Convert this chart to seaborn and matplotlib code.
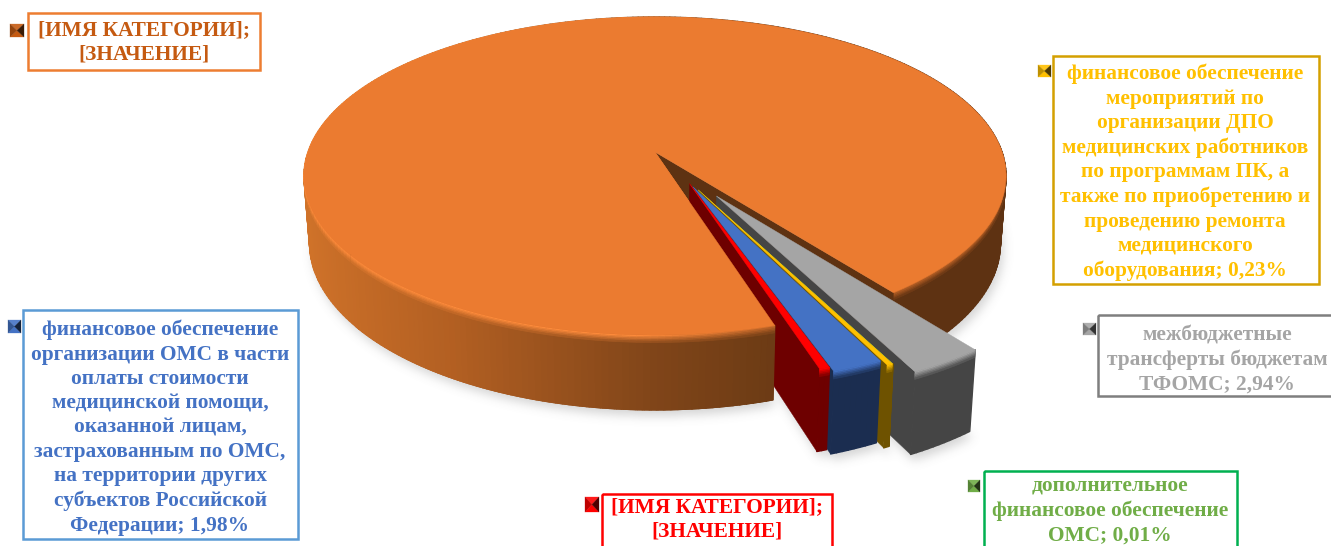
import numpy as np
import pandas as pd
import matplotlib
matplotlib.use("Agg")
import matplotlib.pyplot as plt
from matplotlib.collections import PolyCollection
from matplotlib.colors import to_rgb
from matplotlib.patches import Rectangle
from matplotlib.path import Path
import seaborn as sns

# Budget shares, in the order the slices follow round the pie
categories = ["прочее", "красный", "синий", "жёлтый", "зелёный", "серый"]
shares = [94.44, 0.40, 1.98, 0.23, 0.01, 2.94]
top_colors = ["#EB7B30", "#FF0000", "#4472C4", "#FFC000", "#70AD47", "#A5A5A5"]
wall_colors = ["#5E3212", "#6E0000", "#1B2D50", "#6E5200", "#6E5200", "#454545"]

# Pull-out of each slice: distance and direction in degrees
explode_dist = [0.0, 0.22, 0.24, 0.264, 0.264, 0.32]
explode_dir = [0.0, 26.0, 26.0, 27.0, 27.0, 32.0]

label_texts = [
    "[ИМЯ КАТЕГОРИИ];\n[ЗНАЧЕНИЕ]",
    "[ИМЯ КАТЕГОРИИ];\n[ЗНАЧЕНИЕ]",
    "финансовое обеспечение\nорганизации ОМС в части\nоплаты стоимости\nмедицинской помощи,\n"
    "оказанной лицам,\nзастрахованным по ОМС,\nна территории других\nсубъектов Российской\nФедерации; 1,98%",
    "финансовое обеспечение\nмероприятий по\nорганизации ДПО\nмедицинских работников\nпо программам ПК, а\n"
    "также по приобретению и\nпроведению ремонта\nмедицинского\nоборудования; 0,23%",
    "дополнительное\nфинансовое обеспечение\nОМС; 0,01%",
    "межбюджетные\nтрансферты бюджетам\nТФОМС; 2,94%",
]
text_colors = ["#C55A11", "#FF0000", "#4472C4", "#FFC000", "#70AD47", "#A5A5A5"]
box_edges = ["#ED7D31", "#FF0000", "#5B9BD5", "#D4A000", "#00B050", "#7F7F7F"]
# Label frame: left, top, right, bottom in pixels
boxes = [(28, 13, 260, 70), (602, 494, 832, 560), (23, 310, 298, 539),
         (1053, 56, 1319, 284), (984, 471, 1237, 560), (1098, 315, 1345, 396)]
key_boxes = [(10, 24, 24, 37), (585, 497, 599, 512), (8, 320, 21, 333),
             (1038, 65, 1051, 77), (968, 480, 980, 492), (1083, 323, 1096, 335)]
# Label text anchor: centre x and top y in pixels
text_anchor = [(144, 20), (717, 497), (160, 320), (1185, 64), (1110, 476), (1217, 325)]

W, H = 1331, 546
CX, CY = 655.0, 152.0   # projected centre of the pie
RX, RY = 347.0, 155.4   # plan scale
K = 0.151               # perspective strength
DEPTH = 66.0            # wall height
SLICE_DEPTH = 1.08      # pulled-out slices sit nearer and look a little taller
SHRINK = 0.016          # base of the wall is slightly narrower
START = 37.2            # first slice edge, degrees from the front

df = pd.DataFrame({"name": categories, "share": shares, "top": top_colors, "wall": wall_colors,
                   "dist": explode_dist, "dir": explode_dir})
df["span"] = df["share"] / df["share"].sum() * 360.0
df["start"] = START + df["span"].cumsum().shift(fill_value=0.0)
df["end"] = df["start"] + df["span"]

sns.set_theme(style="white")
plt.rcParams["font.family"] = ["Liberation Serif", "DejaVu Serif"]


def project(x, y, z=0.0):
    x, y, z = np.asarray(x, float), np.asarray(y, float), np.asarray(z, float)
    w = 1.0 - K * y
    s = 1.0 - SHRINK * z
    return np.column_stack(np.broadcast_arrays(CX + RX * x * s / w, CY + RY * y * s / w + DEPTH * z / w))


def rim(theta, ox=0.0, oy=0.0):
    t = np.radians(theta)
    return ox + np.sin(t), oy + np.cos(t)


def offset(row):
    t = np.radians(row["dir"])
    return row["dist"] * np.sin(t), row["dist"] * np.cos(t)


def sector_outline(row, z=0.0):
    ox, oy = offset(row)
    th = np.linspace(row["start"], row["end"], max(3, int(row["span"]) * 2 + 3))
    x, y = rim(th, ox, oy)
    return project(np.r_[ox, x], np.r_[oy, y], z)


def mix(a, b, t):
    a, b = np.asarray(a), np.asarray(b)
    return a + (b - a) * t


ORANGE_STOPS = np.array([to_rgb(c) for c in ["#D2742A", "#B25F22", "#804519", "#6A3A14", "#5E3212", "#5E3212"]])
STOP_X = np.array([-1.0, -0.5, 0.0, 0.33, 0.45, 1.0])


def orange_wall_color(theta):
    x = np.sin(np.radians(theta))
    return np.array([np.interp(x, STOP_X, ORANGE_STOPS[:, i]) for i in range(3)])


def draw_wall(ax, row, th0, th1, color_fn, bevel_fn, zorder, depth=1.0):
    ox, oy = offset(row)
    th = np.linspace(th0, th1, max(2, int(th1 - th0) + 2))
    levels = np.linspace(0, 0.10, 6)
    # Body of the wall, with wide strokes so the narrow columns leave no seams
    body, body_cols = [], []
    bevel, bevel_cols = [], []
    for i in range(len(th) - 1):
        mid = 0.5 * (th[i] + th[i + 1])
        x, y = rim(np.array([th[i], th[i + 1]]), ox, oy)
        a = project(x, y, 0.0)
        b = project(x, y, depth)
        body.append(np.vstack([a, b[::-1]]))
        body_cols.append(color_fn(mid))
        for j in range(len(levels) - 1):
            a = project(x, y, levels[j])
            b = project(x, y, levels[j + 1])
            bevel.append(np.vstack([a, b[::-1]]))
            bevel_cols.append(mix(bevel_fn(mid), color_fn(mid), j / (len(levels) - 1)))
    ax.add_collection(PolyCollection(body, facecolors=body_cols, edgecolors=body_cols,
                                     linewidths=1.0, zorder=zorder))
    ax.add_collection(PolyCollection(bevel, facecolors=bevel_cols, edgecolors=bevel_cols,
                                     linewidths=0.5, zorder=zorder + 0.01))


def draw_top(ax, row, zorder, th0=None, th1=None):
    sub = row.copy()
    if th0 is not None:
        sub["start"], sub["end"], sub["span"] = th0, th1, th1 - th0
    pts = sector_outline(sub)
    ax.fill(pts[:, 0], pts[:, 1], color=row["top"], lw=0.3, zorder=zorder)


def straight_face(ax, row, theta, color, zorder, depth=1.0):
    ox, oy = offset(row)
    x, y = rim(theta, ox, oy)
    a = project([ox, x], [oy, y], 0.0)
    b = project([ox, x], [oy, y], depth)
    pts = np.vstack([a, b[::-1]])
    ax.fill(pts[:, 0], pts[:, 1], color=color, lw=0.3, zorder=zorder)


def orange_bevel(theta):
    x = np.sin(np.radians(theta))
    warm = np.array(to_rgb("#FF8C3C"))
    dark = mix(to_rgb("#EB7B30"), to_rgb("#5E3212"), 0.35)
    return mix(warm, dark, np.clip((x + 0.05) / 0.4, 0.0, 1.0))


fig = plt.figure(figsize=(W / 100, H / 100), dpi=100)
ax = fig.add_axes([0, 0, 1, 1])

# Soft shadow under the pie, built from the footprint of every slice
gx, gy = np.meshgrid(np.arange(W) + 0.5, np.arange(H) + 0.5)
grid = np.column_stack([gx.ravel(), gy.ravel()])
mask = np.zeros(grid.shape[0], bool)
for i, r in df.iterrows():
    foot = sector_outline(r, 1.0 if i == 0 else SLICE_DEPTH)
    mask |= Path(foot + np.array([3.0, 6.0])).contains_points(grid)
mask = mask.reshape(H, W).astype(float)
fy = np.fft.fftfreq(H)[:, None]
fx = np.fft.rfftfreq(W)[None, :]
sigma = 5.0
blur = np.fft.irfft2(np.fft.rfft2(mask) * np.exp(-2 * (np.pi * sigma) ** 2 * (fx ** 2 + fy ** 2)), s=mask.shape)
shadow = np.zeros((H, W, 4))
shadow[..., :3] = 0.45
shadow[..., 3] = np.clip(blur, 0, 1) * 0.30
ax.imshow(shadow, extent=(0, W, H, 0), origin="upper", zorder=1, interpolation="bilinear", aspect="auto")

# Main slice: outer wall, inner cut face and top surface
main = df.iloc[0]
draw_wall(ax, main, main["start"], main["end"], orange_wall_color, orange_bevel, 2)
straight_face(ax, main, main["start"], main["wall"], 3)
draw_top(ax, main, 4)

# Pulled-out slices, back to front
for order, idx in enumerate([5, 4, 3, 2, 1]):
    r = df.iloc[idx]
    z0 = 5 + order
    wall = np.array(to_rgb(r["wall"]))
    top = np.array(to_rgb(r["top"]))
    straight_face(ax, r, r["start"], r["wall"], z0, SLICE_DEPTH)
    draw_wall(ax, r, r["start"], r["end"], lambda _t, w=wall: w, lambda _t, c=top: c, z0 + 0.1, SLICE_DEPTH)
    draw_top(ax, r, z0 + 0.2)

# The near part of the main slice sits in front of the pulled-out ones
near_start = main["end"] - 70.0
draw_wall(ax, main, near_start, main["end"], orange_wall_color, orange_bevel, 20)
draw_top(ax, main, 21, near_start, main["end"])

# Frames, legend keys and labels
for text, color, edge, box, key, anchor in zip(label_texts, text_colors, box_edges, boxes, key_boxes, text_anchor):
    x0, y0, x1, y1 = box
    ax.add_patch(Rectangle((x0, y0), x1 - x0, y1 - y0, fill=False, ec=edge, lw=1.8, zorder=30))
    kx0, ky0, kx1, ky1 = key
    kxm, kym = 0.5 * (kx0 + kx1), 0.5 * (ky0 + ky1)
    light = mix(to_rgb(color), (1, 1, 1), 0.10)
    tris = [[(kx0, ky0), (kx1, ky0), (kxm, kym)], [(kx0, ky1), (kx1, ky1), (kxm, kym)],
            [(kx0, ky0), (kx0, ky1), (kxm, kym)], [(kx1, ky0), (kx1, ky1), (kxm, kym)]]
    shades = [light, to_rgb(color), mix(to_rgb(color), (0, 0, 0), 0.25), mix(to_rgb(color), (0, 0, 0), 0.7)]
    ax.add_collection(PolyCollection(tris, facecolors=shades, edgecolors=shades, linewidths=0.2, zorder=30))
    ax.text(anchor[0], anchor[1], text, color=color, fontsize=15.4, fontweight="bold",
            ha="center", va="top", linespacing=1.287, multialignment="center", zorder=31)

ax.set_xlim(0, W)
ax.set_ylim(H, 0)
ax.set_axis_off()
sns.despine(ax=ax, left=True, bottom=True)
fig.savefig("out.png", dpi=100, facecolor="white")
